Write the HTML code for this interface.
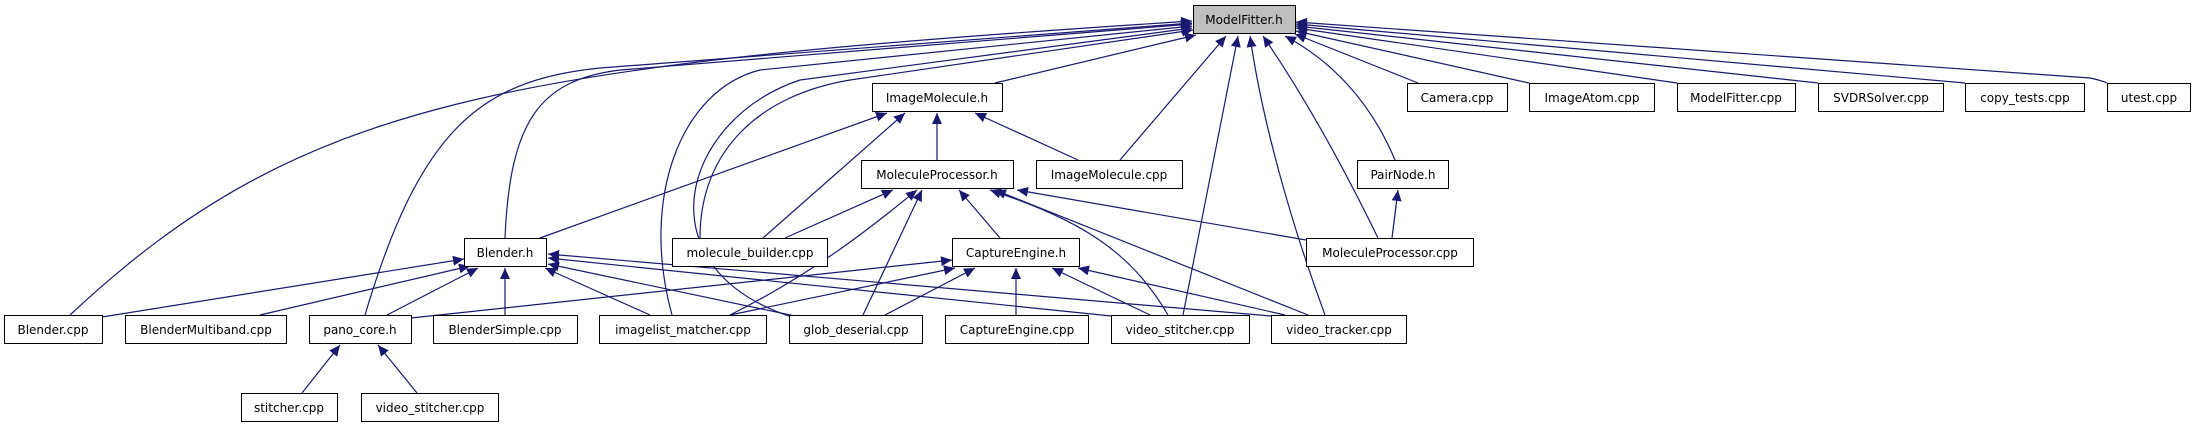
<!DOCTYPE html>
<html><head><meta charset="utf-8"><style>
html,body{margin:0;padding:0;background:#fff;}
svg{display:block;}
text{font-family:"DejaVu Sans","Liberation Sans",sans-serif;font-size:12px;fill:#000;}
</style></head><body>
<svg width="2195" height="427" viewBox="0 0 2195 427" xmlns="http://www.w3.org/2000/svg">
<defs>
<marker id="a" markerUnits="userSpaceOnUse" markerWidth="12" markerHeight="10" refX="11" refY="5" orient="auto">
<path d="M0,0 L11,5 L0,10 Z" fill="#191970"/>
</marker>
</defs>
<g fill="none" stroke="#191970" stroke-width="1.2" marker-end="url(#a)">
<!-- to ModelFitter.h -->
<path d="M70,315 C300,100 500,65 1192,21"/>
<path d="M365,315 C420,130 480,80 600,68 L1192,23"/>
<path d="M505,238 C510,120 540,80 620,70 L1192,24"/>
<path d="M672,315 C640,200 680,90 760,70 L1192,26"/>
<path d="M795,318 C640,270 680,120 800,80 L1192,28"/>
<path d="M700,238 C700,150 760,95 850,80 L1193,30"/>
<path d="M995,83 L1196,35"/>
<path d="M1120,160 L1226,36"/>
<path d="M1183,315 L1238,36"/>
<path d="M1325,315 C1290,220 1262,120 1250,36"/>
<path d="M1378,238 C1340,160 1300,90 1263,36"/>
<path d="M1395,160 C1370,100 1330,60 1285,36"/>
<path d="M1418,83 L1295,34"/>
<path d="M1529,83 L1296,31"/>
<path d="M1677,83 L1296,28"/>
<path d="M1818,83 L1296,26"/>
<path d="M1965,83 L1296,24"/>
<path d="M2107,83 C2100,80 2095,79 2090,78 L1296,22"/>
<!-- to ImageMolecule.h -->
<path d="M540,238 L887,113"/>
<path d="M763,238 L905,113"/>
<path d="M937,160 L937,113"/>
<path d="M1078,160 L975,113"/>
<!-- to MoleculeProcessor.h -->
<path d="M785,238 L893,190"/>
<path d="M730,315 C820,270 880,220 917,190"/>
<path d="M863,315 L922,190"/>
<path d="M1000,238 L959,190"/>
<path d="M1168,315 C1130,250 1080,220 990,190"/>
<path d="M1308,315 L995,190"/>
<path d="M1306,240 L1017,190"/>
<!-- to PairNode.h -->
<path d="M1392,238 L1398,190"/>
<!-- to Blender.h -->
<path d="M102,317 L464,259"/>
<path d="M260,315 L470,266"/>
<path d="M387,315 L478,268"/>
<path d="M505,315 L505,268"/>
<path d="M650,315 L545,268"/>
<path d="M795,316 L548,264"/>
<path d="M1111,316 L548,258"/>
<path d="M1271,316 L548,254"/>
<!-- to CaptureEngine.h -->
<path d="M411,318 L952,260"/>
<path d="M730,315 L955,268"/>
<path d="M885,315 L975,268"/>
<path d="M1016,315 L1016,268"/>
<path d="M1150,315 L1052,268"/>
<path d="M1285,315 L1078,268"/>
<!-- to pano_core.h -->
<path d="M302,393 L340,345"/>
<path d="M417,393 L378,345"/>
</g>
<g stroke="#000" stroke-width="1" fill="#fff">
<rect x="1193.5" y="5.5" width="102" height="28" fill="#bfbfbf"/>
<rect x="872.5" y="83.5" width="130" height="28"/>
<rect x="1407.5" y="83.5" width="100" height="28"/>
<rect x="1529.5" y="83.5" width="125" height="28"/>
<rect x="1677.5" y="83.5" width="118" height="28"/>
<rect x="1818.5" y="83.5" width="125" height="28"/>
<rect x="1965.5" y="83.5" width="119" height="28"/>
<rect x="2107.5" y="83.5" width="83" height="28"/>
<rect x="861.5" y="160.5" width="152" height="28"/>
<rect x="1036.5" y="160.5" width="146" height="28"/>
<rect x="1357.5" y="160.5" width="91" height="28"/>
<rect x="464.5" y="238.5" width="82" height="28"/>
<rect x="672.5" y="238.5" width="155" height="28"/>
<rect x="952.5" y="238.5" width="127" height="28"/>
<rect x="1306.5" y="238.5" width="167" height="28"/>
<rect x="4.5" y="315.5" width="98" height="28"/>
<rect x="125.5" y="315.5" width="161" height="28"/>
<rect x="309.5" y="315.5" width="102" height="28"/>
<rect x="433.5" y="315.5" width="144" height="28"/>
<rect x="599.5" y="315.5" width="167" height="28"/>
<rect x="789.5" y="315.5" width="133" height="28"/>
<rect x="945.5" y="315.5" width="143" height="28"/>
<rect x="1111.5" y="315.5" width="138" height="28"/>
<rect x="1271.5" y="315.5" width="135" height="28"/>
<rect x="241.5" y="393.5" width="96" height="28"/>
<rect x="361.5" y="393.5" width="137" height="28"/>
</g>
<g text-anchor="middle">
<text x="1244" y="24">ModelFitter.h</text>
<text x="937" y="102">ImageMolecule.h</text>
<text x="1457" y="102">Camera.cpp</text>
<text x="1592" y="102">ImageAtom.cpp</text>
<text x="1736" y="102">ModelFitter.cpp</text>
<text x="1881" y="102">SVDRSolver.cpp</text>
<text x="2025" y="102">copy_tests.cpp</text>
<text x="2149" y="102">utest.cpp</text>
<text x="937" y="179">MoleculeProcessor.h</text>
<text x="1109" y="179">ImageMolecule.cpp</text>
<text x="1403" y="179">PairNode.h</text>
<text x="505" y="257">Blender.h</text>
<text x="750" y="257">molecule_builder.cpp</text>
<text x="1016" y="257">CaptureEngine.h</text>
<text x="1390" y="257">MoleculeProcessor.cpp</text>
<text x="53" y="334">Blender.cpp</text>
<text x="206" y="334">BlenderMultiband.cpp</text>
<text x="360" y="334">pano_core.h</text>
<text x="505" y="334">BlenderSimple.cpp</text>
<text x="683" y="334">imagelist_matcher.cpp</text>
<text x="856" y="334">glob_deserial.cpp</text>
<text x="1017" y="334">CaptureEngine.cpp</text>
<text x="1180" y="334">video_stitcher.cpp</text>
<text x="1339" y="334">video_tracker.cpp</text>
<text x="289" y="412">stitcher.cpp</text>
<text x="430" y="412">video_stitcher.cpp</text>
</g>
</svg>
</body></html>
